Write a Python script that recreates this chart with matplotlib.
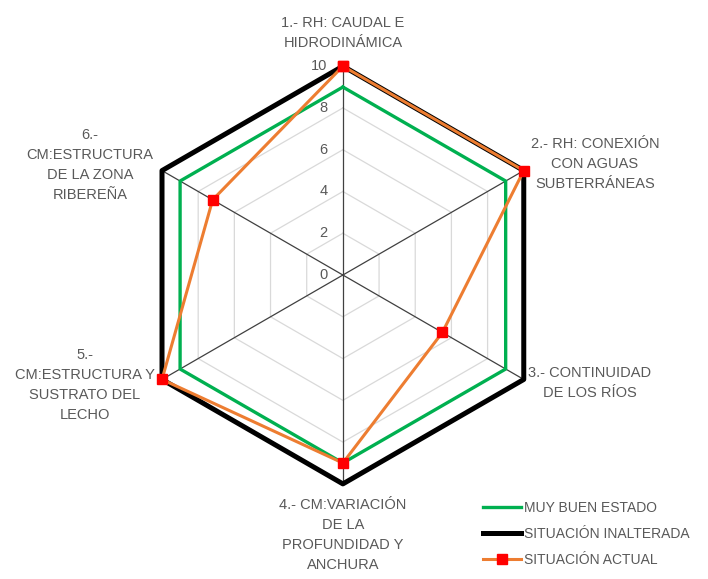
import numpy as np
import matplotlib
matplotlib.use("Agg")
import matplotlib.pyplot as plt

# Categorias (ejes del radar)
categorias = [
    "1.- RH: CAUDAL E\nHIDRODINÁMICA",
    "2.- RH: CONEXIÓN\nCON AGUAS\nSUBTERRÁNEAS",
    "3.- CONTINUIDAD\nDE LOS RÍOS",
    "4.- CM:VARIACIÓN\nDE LA\nPROFUNDIDAD Y\nANCHURA",
    "5.-\nCM:ESTRUCTURA Y\nSUSTRATO DEL\nLECHO",
    "6.-\nCM:ESTRUCTURA\nDE LA ZONA\nRIBEREÑA",
]
muy_buen_estado = [9, 9, 9, 9, 9, 9]
situacion_inalterada = [10, 10, 10, 10, 10, 10]
situacion_actual = [10, 10, 5.5, 9, 10, 7.2]
ticks = [0, 2, 4, 6, 8, 10]

gris_texto = "#595959"
plt.rcParams["font.family"] = ["Liberation Sans", "DejaVu Sans"]

n = len(categorias)
ang = np.arange(n) * 2 * np.pi / n
ang_c = np.append(ang, ang[0])


def cerrar(v):
    return list(v) + [v[0]]


fig = plt.figure(figsize=(7.08, 5.79), dpi=100)
ax = fig.add_axes([0.1893, 0.164, 0.590, 0.722], projection="polar")
ax.set_theta_offset(np.pi / 2)
ax.set_theta_direction(-1)
ax.set_ylim(0, 10)
ax.grid(False)
ax.spines["polar"].set_visible(False)
ax.set_xticks([])
ax.set_yticks([])

# rejilla hexagonal
for t in ticks[1:-1]:
    ax.plot(ang_c, [t] * (n + 1), color="#d9d9d9", lw=0.9, zorder=1)
for a in ang:
    ax.plot([a, a], [0, 10], color="#404040", lw=0.9, zorder=2)

# etiquetas del eje radial
for t in ticks:
    ax.annotate(str(t), (0, t), xytext=(-11, 0), textcoords="offset points",
                ha="right", va="center", fontsize=10.5, color=gris_texto)

ax.plot(ang_c, cerrar(muy_buen_estado), color="#00b050", lw=2.4, zorder=3,
        label="MUY BUEN ESTADO", clip_on=False)
ax.plot(ang_c, cerrar(situacion_inalterada), color="black", lw=3.6, zorder=3,
        label="SITUACIÓN INALTERADA", clip_on=False)
ax.plot(ang_c, cerrar(situacion_actual), color="#ed7d31", lw=2.2, zorder=4,
        marker="s", markersize=7.5, markerfacecolor="red", markeredgecolor="red",
        label="SITUACIÓN ACTUAL", clip_on=False)

# posiciones de las etiquetas (pixeles)
pos = [(343, 33), (595, 164), (590, 383), (343, 535), (85, 385), (90, 165)]
for txt, (x, y) in zip(categorias, pos):
    fig.text(x / 708, 1 - y / 579, txt, ha="center", va="center",
             fontsize=10.5, color=gris_texto, linespacing=1.55)

fig.legend(loc="center left", bbox_to_anchor=(470 / 708, 1 - 534 / 579),
           frameon=False, fontsize=10, handlelength=2.8, labelspacing=0.85,
           handletextpad=0.2, labelcolor=gris_texto)

fig.savefig("out.png", dpi=100)
